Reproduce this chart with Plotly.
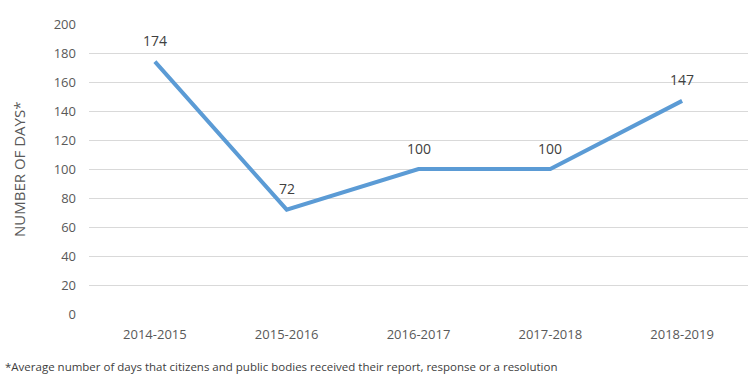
import plotly.graph_objects as go

categories = ["2014-2015", "2015-2016", "2016-2017", "2017-2018", "2018-2019"]
days = [174, 72, 100, 100, 147]
y_ticks = [0, 20, 40, 60, 80, 100, 120, 140, 160, 180, 200]

FONT = "Open Sans, Liberation Sans, sans-serif"

fig = go.Figure()
fig.add_trace(go.Scatter(
    x=categories, y=days, mode="lines",
    line=dict(color="#5B9BD5", width=4),
    hoverinfo="x+y", showlegend=False,
))

for c, v in zip(categories, days):
    fig.add_annotation(x=c, y=v, text=str(v), showarrow=False, yshift=21,
                       font=dict(family=FONT, size=14, color="#404040"))

L, R, T, B = 89, 2, 24, 64
W, H = 750, 378
pw = W - L - R
ph = H - T - B

fig.add_annotation(xref="paper", yref="paper", x=(19 - L) / pw, y=(H - B - 170) / ph,
                   text="NUMBER OF DAYS*", textangle=-90, showarrow=False,
                   xanchor="center", yanchor="middle",
                   font=dict(family=FONT, size=15, color="#595959"))

fig.add_annotation(xref="paper", yref="paper", x=(3 - L) / pw, y=-(366 - (H - B)) / ph,
                   text="*Average number of days that citizens and public bodies received their report, response or a resolution",
                   showarrow=False, xanchor="left", yanchor="middle",
                   font=dict(family=FONT, size=11.5, color="#404040"))

fig.update_layout(
    width=W, height=H,
    margin=dict(l=L, r=R, t=T, b=B),
    paper_bgcolor="white", plot_bgcolor="white",
    font=dict(family=FONT, color="#595959"),
    xaxis=dict(type="category", range=[-0.5, 4.5], showgrid=False, showline=False,
               zeroline=False, ticks="", tickfont=dict(size=13, color="#595959"),
               ticklabelstandoff=11),
    yaxis=dict(range=[0, 200], tickvals=y_ticks, showgrid=True, gridcolor="#D9D9D9",
               gridwidth=1, zeroline=False, showline=False, ticks="",
               tickfont=dict(size=13, color="#595959"), ticklabelstandoff=12),
)

fig.write_html("out.html", config={"displayModeBar": False},
               post_script="document.body.style.margin='0';document.body.style.overflow='hidden';")
